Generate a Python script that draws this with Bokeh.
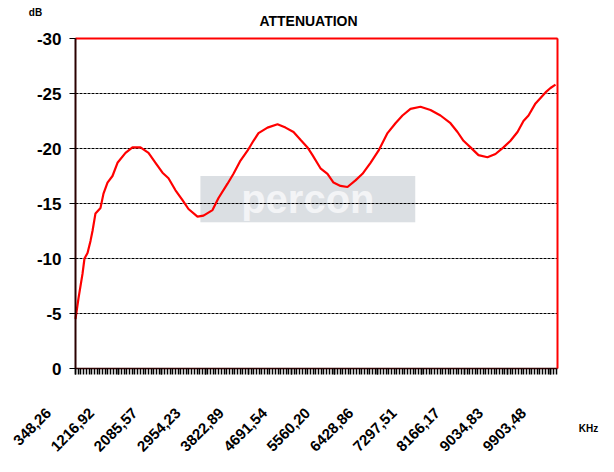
import math
from bokeh.plotting import figure
from bokeh.models import (Range1d, FixedTicker, Label, Grid, LinearAxis,
                          BoxAnnotation)
from bokeh.core.properties import value
from bokeh.embed import file_html
from bokeh.resources import INLINE

# ---- data ----
freq_khz = [348, 409, 489, 529, 590, 650, 690, 750, 851, 911,
            992, 1092, 1193, 1354, 1494, 1655, 1816, 1957, 2098, 2218,
            2359, 2500, 2620, 2801, 2922, 3103, 3224, 3405, 3525, 3666,
            3807, 3927, 4028, 4209, 4410, 4571, 4732, 4872, 5013, 5114,
            5274, 5415, 5536, 5677, 5817, 5978, 6119, 6280, 6441, 6622,
            6782, 6923, 7084, 7285, 7486, 7687, 7888, 8029, 8150, 8291,
            8451, 8632, 8793, 8954, 9095, 9236, 9356, 9457, 9598, 9799,
            9899, 10000]
atten_db = [-4.5, -6.4, -8.6, -10.0, -10.5, -11.6, -12.5, -14.1, -14.6, -15.9,
            -16.9, -17.5, -18.7, -19.6, -20.1, -20.1, -19.6, -18.7, -17.8, -17.3,
            -16.2, -15.3, -14.5, -13.8, -13.9, -14.4, -15.5, -16.8, -17.7, -18.9,
            -19.8, -20.7, -21.4, -21.9, -22.2, -21.9, -21.5, -20.8, -20.1, -19.4,
            -18.2, -17.7, -16.9, -16.6, -16.5, -17.1, -17.7, -18.7, -19.8, -21.4,
            -22.3, -23.0, -23.6, -23.8, -23.5, -23.0, -22.3, -21.5, -20.7, -20.1,
            -19.4, -19.2, -19.5, -20.1, -20.7, -21.5, -22.5, -23.0, -24.1, -25.1,
            -25.5, -25.8]

x_tick_values = [348.26, 1216.92, 2085.57, 2954.23, 3822.89, 4691.54,
                 5560.20, 6428.86, 7297.51, 8166.17, 9034.83, 9903.48]
x_tick_labels = ["348,26", "1216,92", "2085,57", "2954,23", "3822,89", "4691,54",
                 "5560,20", "6428,86", "7297,51", "8166,17", "9034,83", "9903,48"]
y_tick_values = [0, -5, -10, -15, -20, -25, -30]
y_tick_labels = ["0", "-5", "-10", "-15", "-20", "-25", "-30"]

X_START, X_END = 348.26, 10040.0        # extent of the plotted axis
Y_BOTTOM, Y_TOP = 0, -30
FONT = "Liberation Sans"

# layout: the chart box is 482 x 330 px at (75, 38); the drawing frame covers the
# whole canvas so every text can sit inside it
W, H = 614, 472
BOX_L, BOX_T, BOX_W, BOX_H = 75, 38, 482, 330
kpp = (X_END - X_START) / BOX_W
dbp = (Y_BOTTOM - Y_TOP) / BOX_H

p = figure(width=W, height=H, output_backend="svg", toolbar_location=None,
           x_range=Range1d(X_START - BOX_L * kpp, X_END + (W - BOX_L - BOX_W) * kpp),
           y_range=Range1d(Y_BOTTOM + (H - BOX_T - BOX_H) * dbp, Y_TOP - BOX_T * dbp),
           x_axis_location=None, y_axis_location=None,
           min_border_left=0, min_border_right=0, min_border_top=0,
           min_border_bottom=0)

p.background_fill_color = "white"
p.border_fill_color = "white"
p.outline_line_color = None
p.grid.visible = False

# horizontal dashed grid, limited to the chart box
g = Grid(dimension=1, ticker=FixedTicker(ticks=y_tick_values),
         grid_line_color="black", grid_line_dash="3 1", grid_line_width=1)
g.bounds = (Y_TOP, Y_BOTTOM)
g.cross_bounds = (X_START, X_END)
p.add_layout(g)

# watermark
p.add_layout(BoxAnnotation(left=2860, right=7180, bottom=-13.3, top=-17.5,
                           fill_color="#d5d9de", fill_alpha=0.85, line_color=None,
                           level="image"))
p.add_layout(Label(x=5020, y=-15.4, text="percon", text_align="center",
                   text_baseline="middle", text_font=FONT, text_font_size="40px",
                   text_font_style="bold", text_color="#f3f4f6", level="image"))

# y axis
ya = LinearAxis(fixed_location=X_START, bounds=(Y_TOP, Y_BOTTOM),
                ticker=FixedTicker(ticks=y_tick_values),
                major_label_overrides=dict(zip(y_tick_values, y_tick_labels)),
                major_label_text_font=FONT, major_label_text_font_size="17px",
                major_label_text_font_style="bold", major_label_text_color="black",
                major_label_standoff=8, major_tick_out=6, major_tick_in=0,
                minor_tick_line_color=None, axis_line_color="#2a0000",
                axis_line_width=2, major_tick_line_color="black")
p.add_layout(ya, "left")

# red border: top and right
p.add_layout(LinearAxis(fixed_location=Y_TOP, bounds=(X_START, X_END),
                        ticker=FixedTicker(ticks=[]),
                        axis_line_color="#ff0000", axis_line_width=2,
                        major_tick_line_color=None, minor_tick_line_color=None),
             "above")
p.add_layout(LinearAxis(fixed_location=X_END, bounds=(Y_TOP, Y_BOTTOM),
                        ticker=FixedTicker(ticks=[]),
                        axis_line_color="#ff0000", axis_line_width=2,
                        major_tick_line_color=None, minor_tick_line_color=None),
             "right")

# x axis at 0 dB: one small tick per sample, labels every 16 samples
step = (x_tick_values[1] - x_tick_values[0]) / 16.0
minor = []
t = X_START
while t <= X_END:
    minor.append(t)
    t += step
xa = LinearAxis(fixed_location=Y_BOTTOM, bounds=(X_START, X_END),
                ticker=FixedTicker(ticks=x_tick_values, minor_ticks=minor),
                major_label_overrides={v: "" for v in x_tick_values},
                major_tick_out=6, major_tick_in=0, minor_tick_out=6, minor_tick_in=0,
                major_tick_line_color="black", minor_tick_line_color="black",
                major_tick_line_width=1.5, minor_tick_line_width=1.5,
                axis_line_color="#3a0000", axis_line_width=1.5)
p.add_layout(xa, "below")

# rotated x tick labels
p.text(x=x_tick_values, y=[Y_BOTTOM] * len(x_tick_values), text=x_tick_labels,
       angle=math.pi / 4, text_align="right", text_baseline="middle",
       x_offset=-27, y_offset=42, text_font=value(FONT), text_font_size="15px",
       text_font_style="bold", text_color="black")

# title and unit labels
p.text(x=[(X_START + X_END) / 2], y=[Y_TOP], text=["ATTENUATION"],
       text_align="center", text_baseline="middle", x_offset=-8, y_offset=-18,
       text_font=value(FONT), text_font_size="14px", text_font_style="bold",
       text_color="black")
p.text(x=[X_START], y=[Y_TOP], text=["dB"], text_align="center",
       text_baseline="middle", x_offset=-40, y_offset=-26, text_font=value(FONT),
       text_font_size="10px", text_font_style="bold", text_color="black")
p.text(x=[X_END], y=[Y_BOTTOM], text=["KHz"], text_align="center",
       text_baseline="middle", x_offset=31, y_offset=60, text_font=value(FONT),
       text_font_size="10px", text_font_style="bold", text_color="black")

# curve
p.line(freq_khz, atten_db, line_color="#ff0000", line_width=2.2)

open("out.html", "w").write(file_html(p, INLINE))
